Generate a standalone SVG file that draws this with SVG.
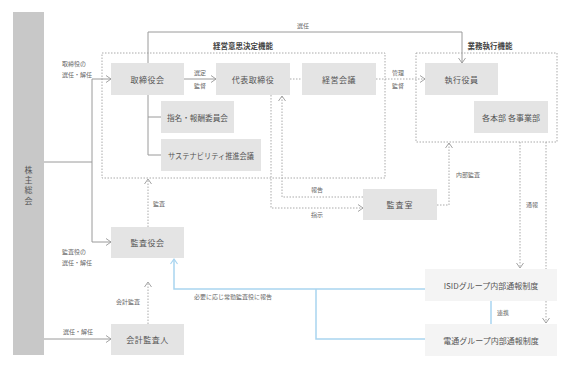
<svg xmlns="http://www.w3.org/2000/svg" width="579" height="368" viewBox="0 0 579 368">
<defs>
<style>
text{font-family:"Noto Sans CJK JP","Noto Sans",sans-serif;fill:#555}
.b{font-size:8px;text-anchor:middle;dominant-baseline:central}
.s{font-size:6px;fill:#666}
.t{font-size:7.5px;font-weight:bold;fill:#444}
.box{fill:#e4e4e4}
.lbox{fill:#f4f4f4}
.sol{fill:none;stroke:#9a9a9a;stroke-width:1}
.dot{fill:none;stroke:#aaa;stroke-width:1;stroke-dasharray:1.5 1.5}
.blu{fill:none;stroke:#a9d5f0;stroke-width:1.5}
</style>
<marker id="ah" markerWidth="8" markerHeight="10" refX="6" refY="4" orient="auto" markerUnits="userSpaceOnUse">
<path d="M1,0.5 L6,4 L1,7.5" fill="none" stroke="#999" stroke-width="0.9"/>
</marker>
<marker id="ahb" markerWidth="8" markerHeight="10" refX="6" refY="4" orient="auto" markerUnits="userSpaceOnUse">
<path d="M1,0.5 L6,4 L1,7.5" fill="none" stroke="#a9d5f0" stroke-width="1.2"/>
</marker>
</defs>

<g id="frames">
<rect x="102" y="53" width="283" height="125" class="dot"/>
<text x="243" y="49" class="t" text-anchor="middle">経営意思決定機能</text>
<rect x="416" y="53" width="141" height="89" class="dot"/>
<text x="490" y="49" class="t" text-anchor="middle">業務執行機能</text>
</g>

<g id="connectors">
<polyline points="148,63 148,32 462,32 462,63" class="sol" marker-end="url(#ah)"/>
<text x="303" y="28" class="s" text-anchor="middle">選任</text>
<line x1="44" y1="162" x2="92" y2="162" class="sol"/>
<line x1="92" y1="79" x2="92" y2="242" class="sol"/>
<line x1="92" y1="79" x2="111" y2="79" class="sol" marker-end="url(#ah)"/>
<line x1="92" y1="242" x2="111" y2="242" class="sol" marker-end="url(#ah)"/>
<text x="62" y="66" class="s">取締役の</text>
<text x="62" y="77" class="s">選任・解任</text>
<text x="62" y="254" class="s">監査役の</text>
<text x="62" y="265" class="s">選任・解任</text>
<line x1="44" y1="339" x2="111" y2="339" class="sol" marker-end="url(#ah)"/>
<text x="78" y="334" class="s" text-anchor="middle">選任・解任</text>
<polyline points="148,95 148,155 161,155" class="sol"/>
<line x1="148" y1="117" x2="161" y2="117" class="sol"/>
<line x1="184" y1="79" x2="216" y2="79" class="sol" marker-end="url(#ah)"/>
<text x="200" y="75" class="s" text-anchor="middle">選定</text>
<text x="200" y="88" class="s" text-anchor="middle">監督</text>
<line x1="290" y1="79" x2="302" y2="79" class="dot"/>
<line x1="376" y1="79" x2="425" y2="79" class="dot" marker-end="url(#ah)"/>
<text x="398" y="75" class="s" text-anchor="middle">管理</text>
<text x="398" y="88" class="s" text-anchor="middle">監督</text>
<line x1="148" y1="227" x2="148" y2="179" class="dot" marker-end="url(#ah)"/>
<text x="153" y="206" class="s">監査</text>
<line x1="148" y1="324" x2="148" y2="282" class="dot" marker-end="url(#ah)"/>
<text x="128" y="304" class="s" text-anchor="middle">会計監査</text>
<polyline points="363,197 282,197 282,96" class="dot" marker-end="url(#ah)"/>
<polyline points="271,95 271,208 363,208" class="dot" marker-end="url(#ah)"/>
<text x="317" y="192" class="s" text-anchor="middle">報告</text>
<text x="317" y="217" class="s" text-anchor="middle">指示</text>
<polyline points="437,205 449,205 449,143" class="dot" marker-end="url(#ah)"/>
<text x="456" y="177" class="s">内部監査</text>
<line x1="520" y1="142" x2="520" y2="268" class="dot" marker-end="url(#ah)"/>
<line x1="546" y1="142" x2="546" y2="323" class="dot" marker-end="url(#ah)"/>
<text x="526" y="207" class="s">通報</text>
<polyline points="425,289 174,289 174,259" class="blu" marker-end="url(#ahb)"/>
<polyline points="316,289 316,339 425,339" class="blu"/>
<line x1="491" y1="301" x2="491" y2="324" class="blu"/>
<text x="497" y="315" class="s">連携</text>
<text x="194" y="299" class="s">必要に応じ常勤監査役に報告</text>
</g>

<g id="n-kabunushi">
<rect x="13" y="12" width="31" height="343" fill="#c8c8c8"/>
<text x="28.5" y="169" class="b" font-size="9">株</text>
<text x="28.5" y="179" class="b" font-size="9">主</text>
<text x="28.5" y="189.5" class="b" font-size="9">総</text>
<text x="28.5" y="200" class="b" font-size="9">会</text>
</g>
<g id="n-torishimariyakukai"><rect x="111" y="63" width="73" height="32" class="box"/><text x="147.5" y="79" class="b" letter-spacing="0.5">取締役会</text></g>
<g id="n-daihyo"><rect x="216" y="63" width="74" height="32" class="box"/><text x="253" y="79" class="b" letter-spacing="0.5">代表取締役</text></g>
<g id="n-keiei"><rect x="302" y="63" width="74" height="32" class="box"/><text x="339" y="79" class="b" letter-spacing="0.5">経営会議</text></g>
<g id="n-shikko"><rect x="425" y="63" width="73" height="32" class="box"/><text x="461.5" y="79" class="b" letter-spacing="0.5">執行役員</text></g>
<g id="n-honbu"><rect x="474" y="101" width="74" height="32" class="box"/><text x="511" y="117" class="b">各本部 各事業部</text></g>
<g id="n-shimei"><rect x="161" y="101" width="73" height="32" class="box"/><text x="197.5" y="117" class="b" textLength="61" lengthAdjust="spacingAndGlyphs">指名・報酬委員会</text></g>
<g id="n-sustain"><rect x="161" y="139" width="100" height="32" class="box"/><text x="211" y="155" class="b" textLength="86" lengthAdjust="spacingAndGlyphs">サステナビリティ推進会議</text></g>
<g id="n-kansayakukai"><rect x="111" y="227" width="73" height="31" class="box"/><text x="147.5" y="242.5" class="b" letter-spacing="0.5">監査役会</text></g>
<g id="n-kaikei"><rect x="111" y="324" width="73" height="31" class="box"/><text x="147.5" y="339.5" class="b" letter-spacing="0.5">会計監査人</text></g>
<g id="n-kansashitsu"><rect x="363" y="189" width="74" height="31" class="box"/><text x="400" y="204.5" class="b" letter-spacing="1">監査室</text></g>
<g id="n-isid"><rect x="425" y="269" width="132" height="32" class="lbox"/><text x="491" y="285" class="b" font-size="7.5">ISIDグループ内部通報制度</text></g>
<g id="n-dentsu"><rect x="425" y="324" width="132" height="32" class="lbox"/><text x="491" y="340" class="b" font-size="7.5">電通グループ内部通報制度</text></g>
</svg>
